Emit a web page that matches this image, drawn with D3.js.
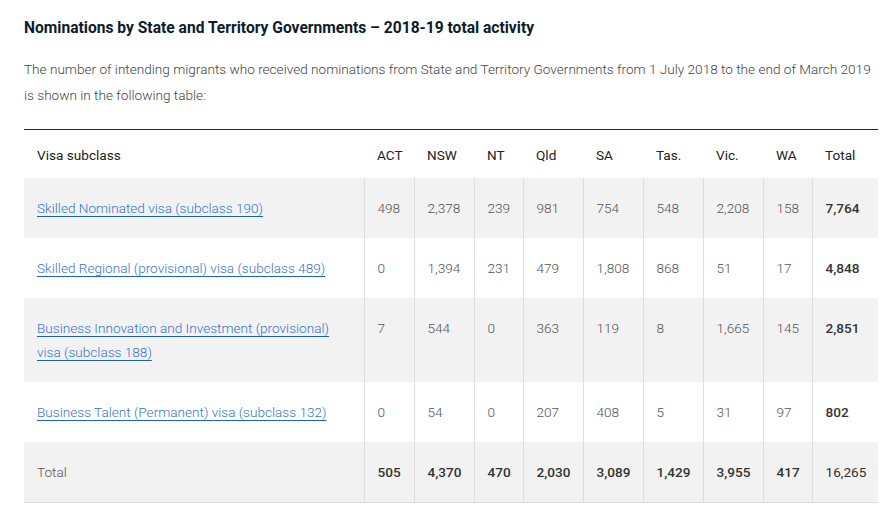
<!DOCTYPE html>
<html>
<head>
<meta charset="utf-8">
<script src="https://cdn.jsdelivr.net/npm/d3@7"></script>
<style>
  body { margin: 0; background: #fff; font-family: Roboto, "Noto Sans", sans-serif; }
  #wrap { position: absolute; left: 24px; top: 0; width: 854px; }
  h3 { margin: 18px 0 0 0; font-size: 15.6px; font-weight: 700; color: #0c1c2c; line-height: 20px; }
  p.intro { margin: 18px 0 0 0; font-size: 13.6px; font-weight: 300; color: #444; line-height: 26px; }
  table { border-collapse: collapse; margin-top: 21px; width: 854px; table-layout: fixed; }
  thead tr { border-top: 1.5px solid #1d2732; }
  th { font-weight: 400; font-size: 13.6px; color: #222; text-align: left; padding: 13px 0 11px 13px; line-height: 24px; }
  td { font-size: 13.6px; font-weight: 300; color: #555; text-align: left; vertical-align: top;
       padding: 18px 0 18px 13px; line-height: 24px; }
  tbody td + td { border-left: 1px solid #dedede; }
  tbody tr:nth-child(odd) { background: #f2f2f2; }
  tbody tr:last-child { border-bottom: 1px solid #dedede; }
  td.tot { font-weight: 500; color: #333; }
  td.grand { font-weight: 400; color: #333; }
  td a { color: #3a74cc; text-decoration: underline; text-decoration-color: #1e62b8; text-underline-offset: 3px; }
  td.lab { padding-right: 13px; }
</style>
</head>
<body>
<div id="wrap"></div>
<script>
var title = "Nominations by State and Territory Governments \u2013 2018-19 total activity";
var intro = "The number of intending migrants who received nominations from State and Territory Governments from 1 July 2018 to the end of March 2019 is shown in the following table:";

var columns = ["ACT", "NSW", "NT", "Qld", "SA", "Tas.", "Vic.", "WA"];
var visas = [
  "Skilled Nominated visa (subclass 190)",
  "Skilled Regional (provisional) visa (subclass 489)",
  "Business Innovation and Investment (provisional) visa (subclass 188)",
  "Business Talent (Permanent) visa (subclass 132)"
];
var sc190 = [498, 2378, 239, 981, 754, 548, 2208, 158];
var sc489 = [0, 1394, 231, 479, 1808, 868, 51, 17];
var sc188 = [7, 544, 0, 363, 119, 8, 1665, 145];
var sc132 = [0, 54, 0, 207, 408, 5, 31, 97];
var values = [sc190, sc489, sc188, sc132];

var colWidths = [340, 50, 60, 49, 60, 60, 60, 60, 49, 66];
var fmt = d3.format(",");

var wrap = d3.select("#wrap");
wrap.append("h3").text(title);
wrap.append("p").attr("class", "intro").text(intro);

var table = wrap.append("table");
table.append("colgroup").selectAll("col")
  .data(colWidths).enter().append("col")
  .style("width", function(d) { return d + "px"; });

var header = ["Visa subclass"].concat(columns, ["Total"]);
table.append("thead").append("tr").selectAll("th")
  .data(header).enter().append("th")
  .text(function(d) { return d; });

// one row per visa, then a total row summed per state
var rows = visas.map(function(v, i) {
  var vals = values[i];
  return { label: v, link: true, cells: vals.map(function(n) { return { v: n, cls: "num" }; })
    .concat([{ v: d3.sum(vals), cls: "num tot" }]) };
});
var colTotals = columns.map(function(c, j) { return d3.sum(values, function(r) { return r[j]; }); });
rows.push({ label: "Total", link: false, cells: colTotals.map(function(n) { return { v: n, cls: "num tot" }; })
  .concat([{ v: d3.sum(colTotals), cls: "num grand" }]) });

var tr = table.append("tbody").selectAll("tr")
  .data(rows).enter().append("tr");

tr.append("td").attr("class", "lab").each(function(d) {
  var cell = d3.select(this);
  if (d.link) cell.append("a").attr("href", "#").text(d.label);
  else cell.text(d.label);
});

tr.selectAll("td.num")
  .data(function(d) { return d.cells; })
  .enter().append("td")
  .attr("class", function(d) { return d.cls; })
  .text(function(d) { return fmt(d.v); });
</script>
</body>
</html>
